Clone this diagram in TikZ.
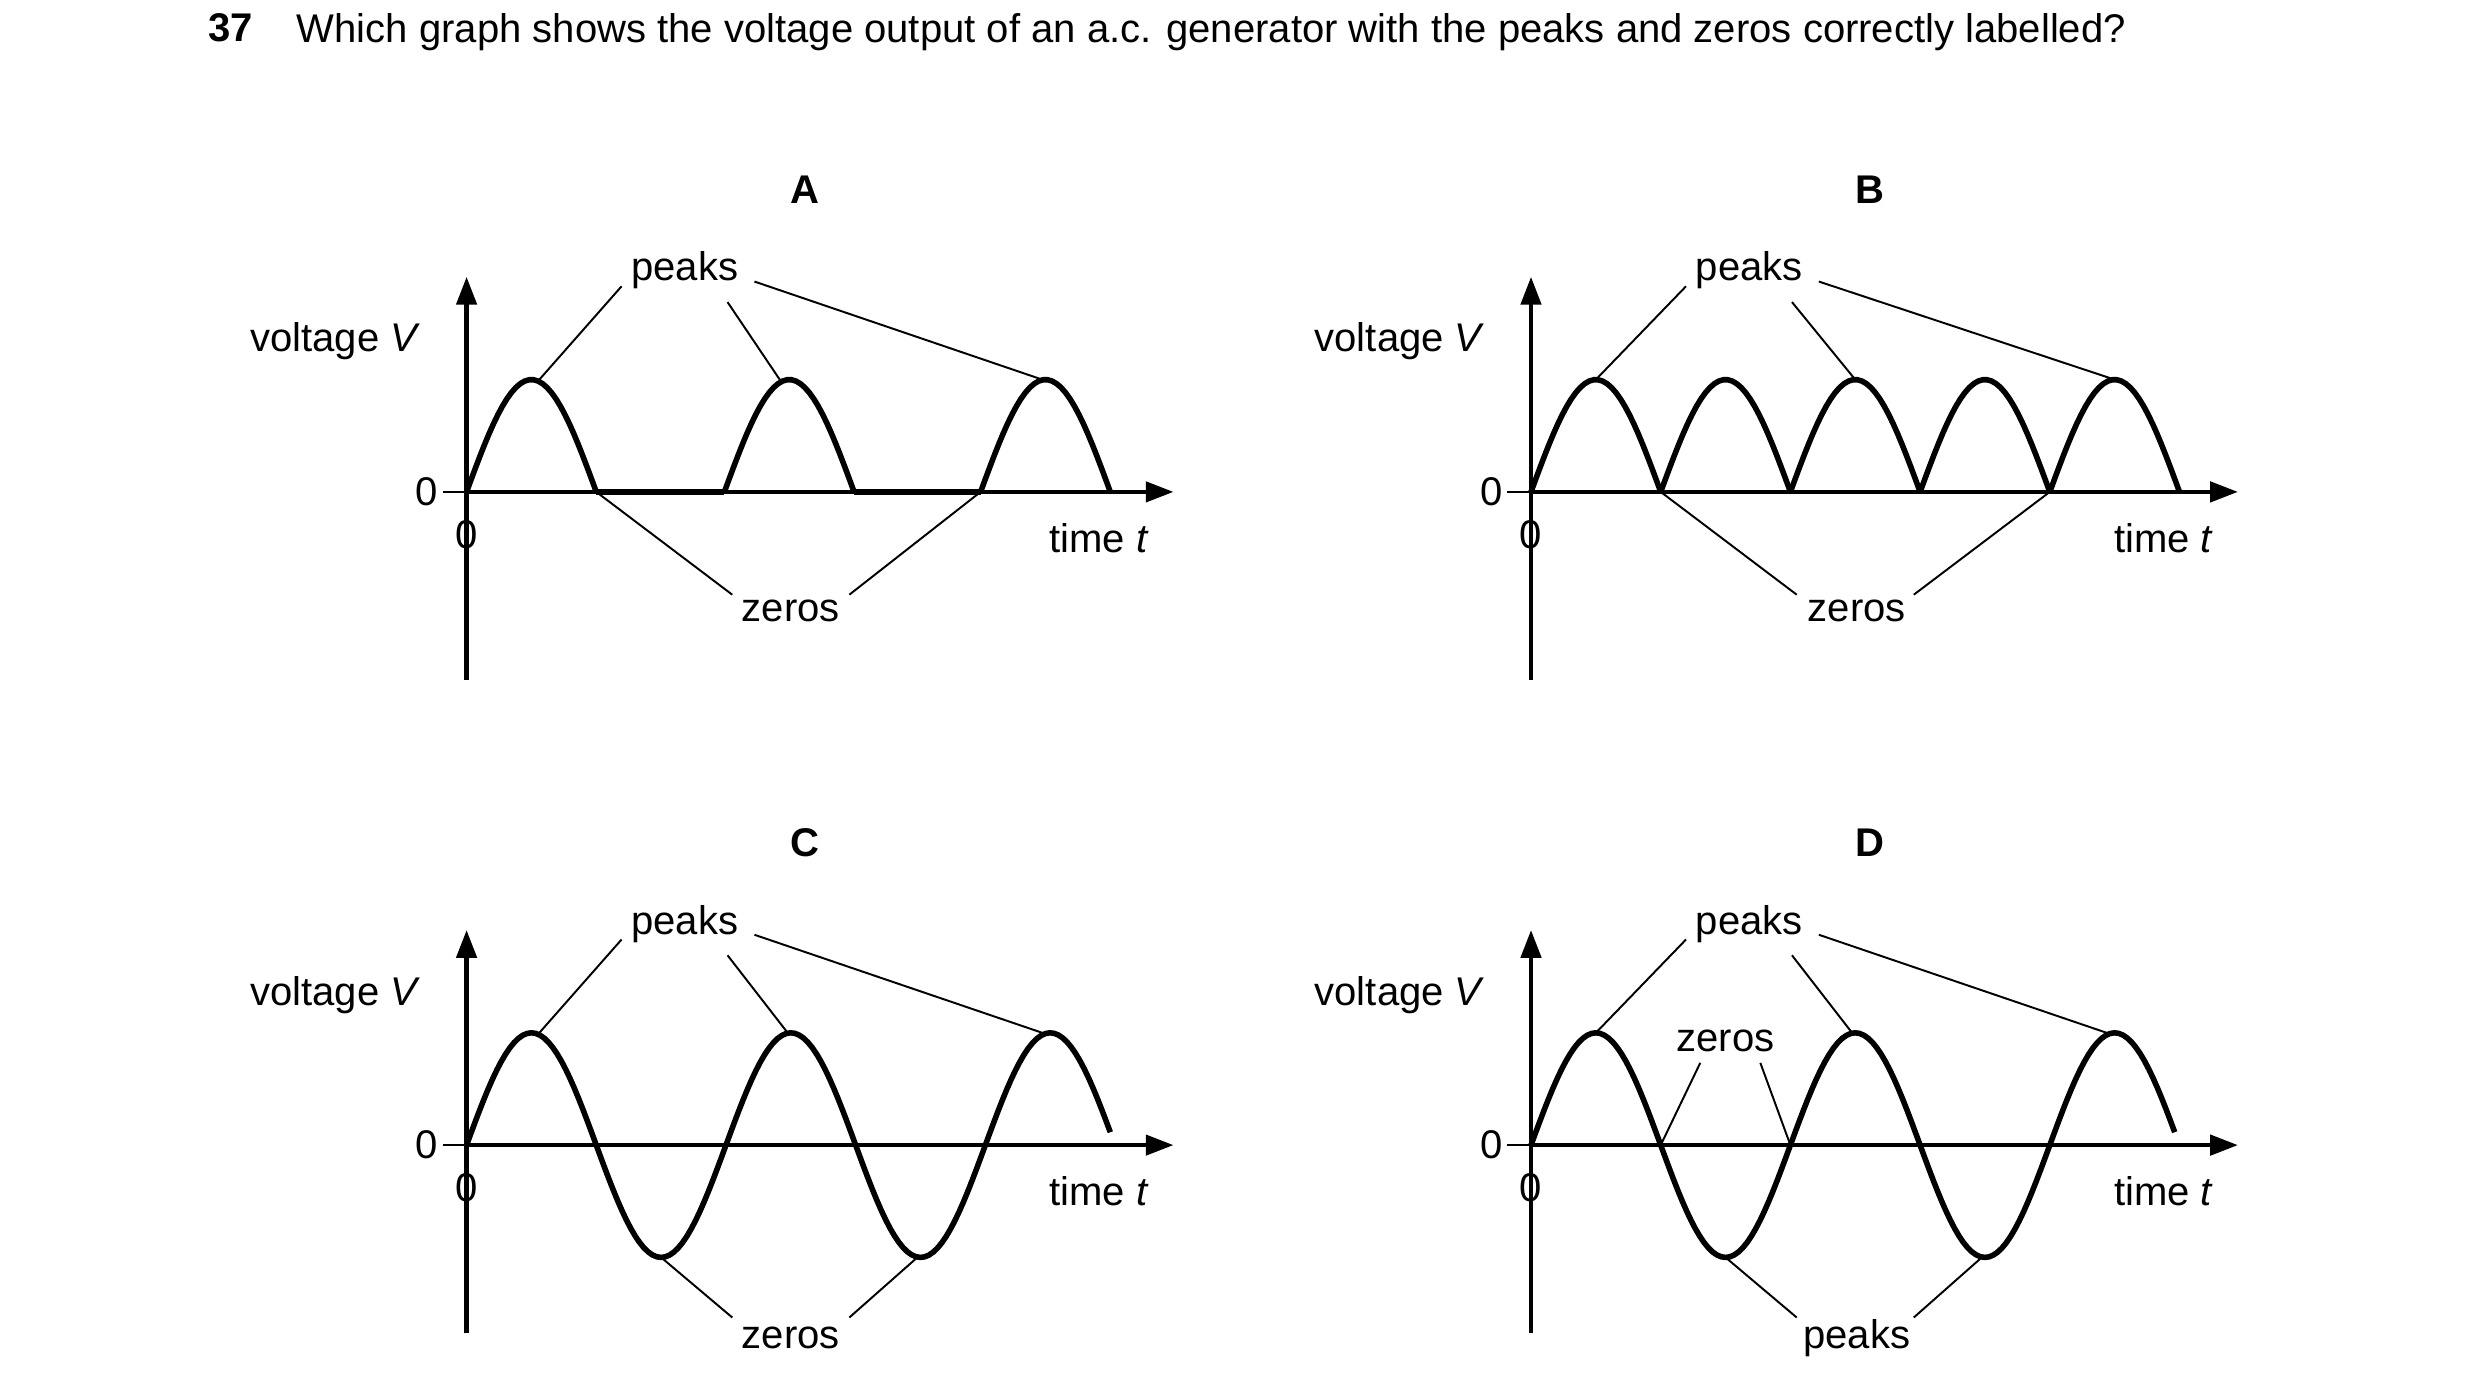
\documentclass[tikz,border=0pt]{standalone}
\usepackage{fontspec}
\setmainfont{Liberation Sans}
\usetikzlibrary{arrows.meta}

\begin{document}
\begin{tikzpicture}[x=0.01cm, y=-0.01cm,
                   every node/.style={font=\fontsize{7.2}{8.6}\selectfont, inner sep=0pt},
                   axis/.style={line width=0.8pt, -{Triangle[length=5pt, width=3.6pt]}},
                   wave/.style={line width=1pt},
                   lead/.style={line width=0.35pt}]
\useasboundingbox (0,0) rectangle (1568,884);
% question
\node[anchor=north west, font=\bfseries\fontsize{7.2}{8.6}\selectfont] at (131,8) {37};
\node[anchor=north west, text width=12.5cm, align=justify] (q) at (187,8)
	{Which graph shows the voltage output of an a.c. generator with the peaks and zeros correctly labelled?};
% common axes
\foreach \dx/\dy/\lab in {0/0/A, 673/0/B, 0/413/C, 673/413/D}{
\begin{scope}[shift={(\dx,\dy)}]
	\node[font=\bfseries\fontsize{7.2}{8.6}\selectfont] (t\lab) at (509,120) {\lab};
	\coordinate (o\lab) at (295,311);
	\draw[axis] (295,430) -- (295,175);
	\draw[axis] (295,311) -- (742,311);
	\draw[lead] (280,311) -- (295,311);
	\node (z\lab) at (270,311) {0};
	\node (zz\lab) at (295,338) {0};
	\node (v\lab) at (212,216) {voltage \textit{V}};
	\node (time\lab) at (695,340) {time \textit{t}};
	\node (p\lab) at (433,171) {peaks};
\end{scope}
}
% A
\foreach \s in {295,458,620}
	\draw[wave] plot[domain=0:82, samples=30] ({\s+\x}, {311-71*sin(\x/82*180)});
\draw[wave] (377,311) -- (458,311) (540,311) -- (620,311);
\draw[lead] (393,181) -- (341,240) (460,191) -- (493,240) (477,178) -- (659,240);
\node (zeA) at (500,386) {zeros};
\draw[lead] (463,376) -- (377,311) (537,376) -- (620,311);
% B
\foreach \s in {968,1050,...,1296}
	\draw[wave] plot[domain=0:82, samples=30] ({\s+\x}, {311-71*sin(\x/82*180)});
\draw[lead] (1066,181) -- (1009,240) (1133,191) -- (1173,240) (1150,178) -- (1337,240);
\node (zeB) at (1174,386) {zeros};
\draw[lead] (1136,376) -- (1050,311) (1210,376) -- (1296,311);
% C
\draw[wave] plot[domain=0:407, samples=150] ({295+\x}, {724-71*sin(\x/82*180)});
\draw[lead] (393,594) -- (341,653) (460,604) -- (498,653) (477,591) -- (659,653);
\node (zeC) at (500,846) {zeros};
\draw[lead] (463,833) -- (418,795) (537,833) -- (580,795);
% D
\draw[wave] plot[domain=0:407, samples=150] ({968+\x}, {724-71*sin(\x/82*180)});
\draw[lead] (1066,594) -- (1009,653) (1133,604) -- (1171,653) (1150,591) -- (1332,653);
\node (zeD) at (1091,658) {zeros};
\draw[lead] (1075,672) -- (1050,724) (1113,672) -- (1132,724);
\node (pkD) at (1174,846) {peaks};
\draw[lead] (1136,833) -- (1091,795) (1210,833) -- (1253,795);
\end{tikzpicture}
\end{document}
